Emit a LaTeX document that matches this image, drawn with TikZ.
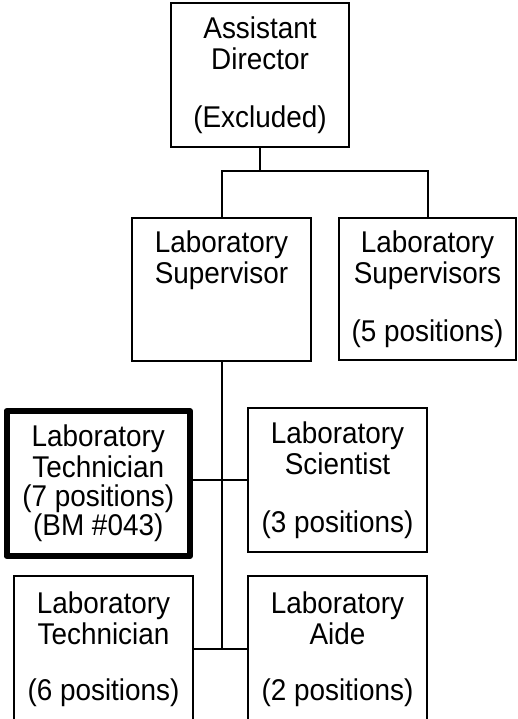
\documentclass[tikz,border=0pt]{standalone}
\usepackage{fontspec}
\setmainfont{Liberation Sans}[FakeStretch=0.93]
\begin{document}
\begin{tikzpicture}[x=1pt,y=-1pt,
    every node/.style={font=\fontsize{30pt}{31pt}\selectfont},
    post/.style={draw,line width=2pt,align=center,inner sep=0pt,
      minimum width=179pt,minimum height=143pt},
    heavy/.style={post,line width=6pt,line join=round},
    link/.style={line width=2pt}]
  \clip (0,0) rectangle (517,719);

  \node (ad) [post,minimum width=178pt,minimum height=144pt] at (260,75) {Assistant\\Director\\[27pt](Excluded)};
  \node (sup) [post] at (221.5,289.5) {Laboratory\\Supervisor\\[27pt]\phantom{(5 positions)}};
  \node (sups) [post,minimum width=177pt,minimum height=142pt] at (427.5,289) {Laboratory\\Supervisors\\[27pt](5 positions)};
  \node (techa) [heavy,minimum width=183.5pt,minimum height=145pt] at (98.25,483.5) {Laboratory\\Technician\\[-2pt](7 positions)\\[-2pt](BM \#043)};
  \node (sci) [post,minimum height=144pt] at (337.5,480) {Laboratory\\Scientist\\[27pt](3 positions)};
  \node (techb) [post,minimum height=146pt] at (103.5,649) {Laboratory\\Technician\\[25pt](6 positions)};
  \node (aide) [post,minimum height=146pt] at (337.5,649) {Laboratory\\Aide\\[25pt](2 positions)};

  \coordinate (bus) at (260,171);
  \draw [link] (ad.south) -- (bus);
  \draw [link] (sup.north) |- (bus) -| (sups.north);
  \draw [link] (sup.south) -- (sup.south |- techb.east);
  \draw [link] (sci.west -| techa.east) -- (sci.west);
  \draw [link] (techb.east) -- (aide.west);
\end{tikzpicture}
\end{document}
